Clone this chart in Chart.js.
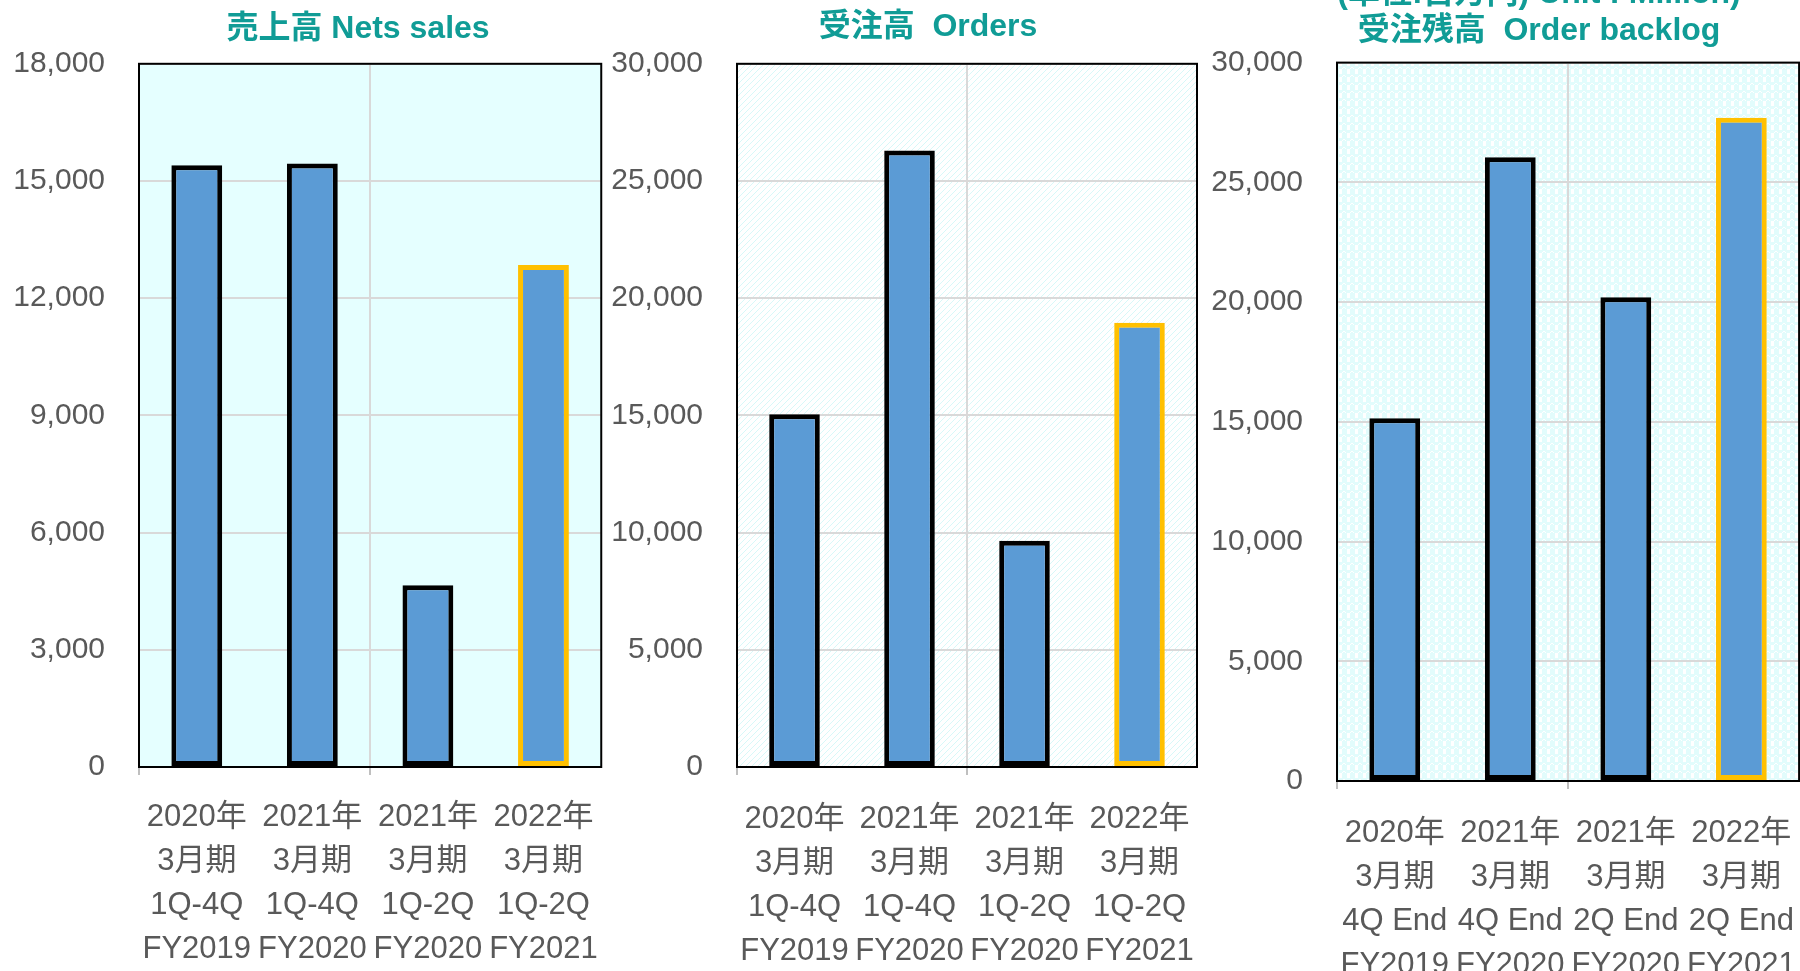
<!DOCTYPE html>
<html>
<head>
<meta charset="UTF-8" />
<title>売上高・受注高・受注残高</title>
<style>
  html, body { margin: 0; padding: 0; background: #fff; }
  body { width: 1800px; height: 971px; overflow: hidden; position: relative; }
  canvas { position: absolute; }
</style>
<script src="https://cdn.jsdelivr.net/npm/chart.js"></script>
</head>
<body>
<canvas id="salesChart" width="620" height="971" style="left:0;top:0"></canvas>
<canvas id="ordersChart" width="620" height="971" style="left:600px;top:0"></canvas>
<canvas id="backlogChart" width="620" height="1006" style="left:1200px;top:-35px"></canvas>
<script>
// category labels (one line each)
const yearLabels = ["2020年", "2021年", "2021年", "2022年"];
const termLabels = ["3月期", "3月期", "3月期", "3月期"];
const rangeLabels = ["1Q-4Q", "1Q-4Q", "1Q-2Q", "1Q-2Q"];
const endLabels = ["4Q End", "4Q End", "2Q End", "2Q End"];
const fyLabels = ["FY2019", "FY2020", "FY2020", "FY2021"];

// values (百万円)
const salesValues = [15400, 15450, 4650, 12850];
const ordersValues = [15050, 26300, 9650, 18950];
const backlogValues = [15150, 26050, 20200, 27700];

// y ticks
const salesTicks = [0, 3000, 6000, 9000, 12000, 15000, 18000];
const ordersTicks = [0, 5000, 10000, 15000, 20000, 25000, 30000];
const backlogTicks = [0, 5000, 10000, 15000, 20000, 25000, 30000];

const FONT = "'Liberation Sans', Arial, 'Noto Sans CJK JP', sans-serif";
const TEXT = '#595959';
const TEAL = '#109c96';
const BAR = '#5b9bd5';
const EDGE = ['#000000', '#000000', '#000000', '#ffc000'];

function tile(w, h, draw) {
  const c = document.createElement('canvas');
  c.width = w; c.height = h;
  draw(c.getContext('2d'));
  return c.getContext('2d').createPattern(c, 'repeat');
}

const solidFill = '#e5ffff';
const hatchFill = tile(6, 6, g => {
  g.fillStyle = '#ffffff'; g.fillRect(0, 0, 6, 6);
  g.fillStyle = '#d8f8f8';
  for (let i = 0; i < 6; i++) g.fillRect(i, 5 - i, 1, 1);
});
const checkFill = tile(8, 8, g => {
  g.fillStyle = '#e2fcfc'; g.fillRect(0, 0, 8, 8);
  g.fillStyle = '#ffffff';
  g.fillRect(3, 0, 3, 5);
  g.fillRect(0, 6, 1, 1); g.fillRect(1, 7, 1, 1);
  g.fillRect(7, 6, 1, 1); g.fillRect(6, 7, 1, 1);
});

const plotFrame = {
  id: 'plotFrame',
  afterLayout(chart, args, opts) {
    const t = chart.titleBlock;
    if (!t) return;
    const half = (t.right - t.left) / 2;
    t.left = opts.titleX - half;
    t.right = opts.titleX + half;
  },
  beforeDraw(chart, args, opts) {
    const { ctx, chartArea: a } = chart;
    ctx.save();
    ctx.fillStyle = opts.fill;
    ctx.fillRect(a.left, a.top, a.width, a.height);
    ctx.restore();
  },
  beforeDatasetsDraw(chart) {
    const { ctx, chartArea: a } = chart;
    ctx.save();
    ctx.strokeStyle = '#000';
    ctx.lineWidth = 2;
    ctx.strokeRect(a.left, a.top, a.width, a.height);
    ctx.restore();
  }
};

function makeChart(id, opt) {
  const labels = opt.lines[0].map((_, i) => opt.lines.map(l => l[i]));
  const ticks = opt.ticks;
  return new Chart(document.getElementById(id), {
    type: 'bar',
    data: {
      labels,
      datasets: [{
        data: opt.values,
        backgroundColor: BAR,
        borderColor: EDGE,
        borderWidth: 5,
        borderSkipped: false,
        categoryPercentage: 1,
        barPercentage: 0.44
      }]
    },
    options: {
      responsive: false,
      devicePixelRatio: 1,
      animation: false,
      layout: { padding: { left: 0, right: opt.padRight, top: 0, bottom: 0 } },
      plugins: {
        legend: { display: false },
        tooltip: { enabled: false },
        title: {
          display: true,
          text: opt.title,
          color: TEAL,
          font: { family: FONT, size: 32, weight: 'bold', lineHeight: 1.15 },
          padding: opt.titlePad
        },
        plotFrame: { fill: opt.fill, titleX: opt.titleX }
      },
      scales: {
        x: {
          grid: {
            offset: true,
            color: c => (c.index % 2 === 0 ? '#d9d9d9' : 'rgba(0,0,0,0)'),
            lineWidth: 2,
            tickLength: 8,
            tickColor: c => (c.index % 2 === 0 ? '#bfbfbf' : 'rgba(0,0,0,0)'),
            tickWidth: 2
          },
          border: { display: true, color: '#bfbfbf', width: 2 },
          ticks: {
            color: TEXT,
            font: { family: FONT, size: 31, lineHeight: '44px' },
            padding: opt.labelPad,
            maxRotation: 0,
            autoSkip: false
          },
          afterFit: s => { s.height = opt.xHeight; }
        },
        y: {
          min: ticks[0],
          max: ticks[ticks.length - 1],
          grid: { color: '#d9d9d9', lineWidth: 2, drawTicks: false },
          border: { display: false },
          ticks: {
            stepSize: ticks[1] - ticks[0],
            color: TEXT,
            padding: 34,
            font: { family: FONT, size: 30 },
            callback: v => v.toLocaleString('en-US')
          },
          afterFit: s => { s.width = opt.yWidth; }
        }
      }
    },
    plugins: [plotFrame]
  });
}

makeChart('salesChart', {
  title: '売上高 Nets sales',
  titlePad: { top: 11, bottom: 16 },
  titleX: 358,
  values: salesValues,
  ticks: salesTicks,
  lines: [yearLabels, termLabels, rangeLabels, fyLabels],
  fill: solidFill,
  padRight: 18,
  yWidth: 139,
  xHeight: 204,
  labelPad: 20
});

makeChart('ordersChart', {
  title: '受注高  Orders',
  titlePad: { top: 9, bottom: 18 },
  titleX: 328,
  values: ordersValues,
  ticks: ordersTicks,
  lines: [yearLabels, termLabels, rangeLabels, fyLabels],
  fill: hatchFill,
  padRight: 23,
  yWidth: 137,
  xHeight: 204,
  labelPad: 22
});

makeChart('backlogChart', {
  title: ['(単位:百万円) Unit : Million)', '受注残高  Order backlog'],
  titlePad: { top: 11, bottom: 13 },
  titleX: 339,
  values: backlogValues,
  ticks: backlogTicks,
  lines: [yearLabels, termLabels, endLabels, fyLabels],
  fill: checkFill,
  padRight: 19,
  yWidth: 137,
  xHeight: 190,
  labelPad: 22
});
</script>
</body>
</html>
